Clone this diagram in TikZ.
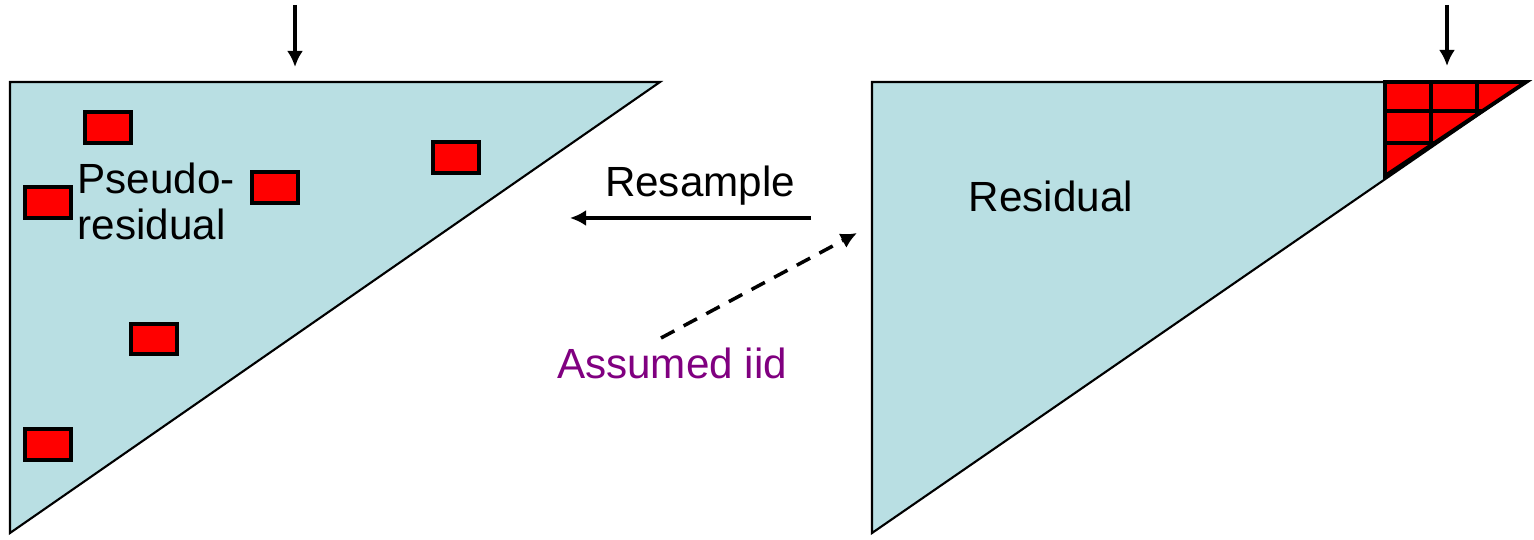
\documentclass[tikz,border=0pt]{standalone}
\usepackage{fontspec}
\setmainfont{Liberation Sans}
\usetikzlibrary{arrows.meta}
\definecolor{sheet}{HTML}{B9DFE3}
\definecolor{block}{HTML}{FF0000}
\definecolor{note}{HTML}{800080}
\tikzset{
  tri/.style={fill=sheet, draw=black, line width=0.6pt},
  blk/.style={fill=block, draw=black, line width=1.1pt},
  lbl/.style={font=\fontsize{12}{13.2}\selectfont, inner sep=0pt},
  arr/.style={line width=0.9pt, -{Latex[length=4.6pt, width=4.6pt]}},
}
\begin{document}
\begin{tikzpicture}[x=0.01cm, y=-0.01cm]
\useasboundingbox (0,0) rectangle (1534,540);

% left triangle: pseudo-residual matrix
\coordinate (L1) at (10,82);
\coordinate (L2) at (660,82);
\coordinate (L3) at (10,533);
\draw[tri] (L1) -- (L2) -- (L3) -- cycle;

% scattered resampled blocks
\draw[blk] (85,112) rectangle (131,143);
\draw[blk] (25,187) rectangle (71,218);
\draw[blk] (252,172) rectangle (298,203);
\draw[blk] (433,142) rectangle (479,173);
\draw[blk] (131,324) rectangle (177,354);
\draw[blk] (25,429) rectangle (71,460);

\node[lbl, anchor=north west, align=left] (pr) at (77,162) {Pseudo-\\residual};

% right triangle: residual matrix
\coordinate (R1) at (872,82);
\coordinate (R2) at (1526,82);
\coordinate (R3) at (872,533);
\draw[tri] (R1) -- (R2) -- (R3) -- cycle;

% gridded corner of the residual matrix
\begin{scope}
  \clip (1385,82) -- (1526,82) -- (1385,176) -- cycle;
  \fill[block] (1385,82) -- (1526,82) -- (1385,176) -- cycle;
  \draw[black, line width=1.1pt] (1431,82) -- (1431,200) (1477,82) -- (1477,200)
    (1385,111) -- (1526,111) (1385,143) -- (1526,143);
\end{scope}
\draw[black, line width=1.1pt, line join=miter] (1385,82) -- (1526,82) -- (1385,176) -- cycle;

\node[lbl, anchor=base west] (res) at (968,212) {Residual};

% column markers
\coordinate (ta) at (295,5);
\coordinate (tb) at (295,67);
\draw[arr] (ta) -- (tb);
\coordinate (ua) at (1447,5);
\coordinate (ub) at (1447,66);
\draw[arr] (ua) -- (ub);

% resampling arrow
\node[lbl, anchor=base] (rs) at (700,197) {Resample};
\coordinate (ra) at (811,218);
\coordinate (rb) at (570,218);
\draw[arr] (ra) -- (rb);

% iid assumption
\node[lbl, anchor=base, text=note] (iid) at (672,378) {Assumed iid};
\coordinate (da) at (661,338);
\coordinate (db) at (857,233);
\draw[arr, line width=1pt, dash pattern=on 4.3pt off 3pt] (da) -- (db);
\end{tikzpicture}
\end{document}
